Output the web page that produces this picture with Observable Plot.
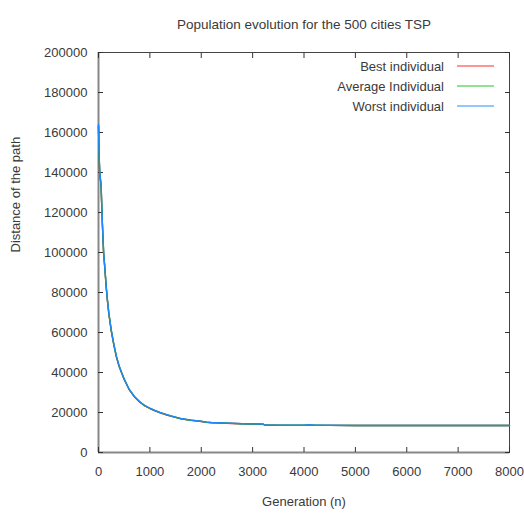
<!DOCTYPE html>
<html>
<head>
<meta charset="utf-8">
<script src="https://cdn.jsdelivr.net/npm/d3@7"></script>
<script src="https://cdn.jsdelivr.net/npm/@observablehq/plot@0.6"></script>
<style>
  html, body { margin: 0; padding: 0; background: white; }
</style>
</head>
<body>
<div id="chart"></div>
<script>
const titleText = "Population evolution for the 500 cities TSP";
const xLabel = "Generation (n)";
const yLabel = "Distance of the path";
const seriesNames = ["Best individual", "Average Individual", "Worst individual"];
const seriesColors = ["#ff0000", "#00c000", "#1e88ff"];
const legendColors = ["#ff7070", "#6cd86c", "#6cb4ff"];
const xTicks = [0, 1000, 2000, 3000, 4000, 5000, 6000, 7000, 8000];
const yTicks = [0, 20000, 40000, 60000, 80000, 100000, 120000, 140000, 160000, 180000, 200000];

const generations = [0, 10, 25, 50, 75, 100, 125, 150, 175, 200, 250, 300, 350, 400, 450, 500, 600, 700, 800, 900, 1000, 1100, 1200, 1300, 1400, 1500, 1600, 1700, 1800, 1900, 2000, 2100, 2200, 2400, 2600, 2800, 3000, 3200, 3250, 3400, 3600, 3800, 4000, 4100, 4200, 4500, 5000, 5500, 6000, 6500, 7000, 7500, 8000];
const worst = [164000, 150000, 140000, 134000, 115000, 100000, 92000, 83000, 76000, 70000, 61000, 54000, 48000, 43500, 40000, 36800, 31500, 28000, 25500, 23500, 22200, 21000, 20000, 19200, 18400, 17700, 17000, 16600, 16200, 15900, 15600, 15200, 15000, 14800, 14600, 14400, 14300, 14200, 13700, 13700, 13600, 13600, 13600, 13900, 13600, 13600, 13500, 13500, 13500, 13500, 13500, 13500, 13500];
const average = [163500, 149500, 139600, 133600, 114700, 99700, 91700, 82800, 75800, 69800, 60800, 53800, 47800, 43300, 39850, 36650, 31400, 27900, 25400, 23400, 22100, 20900, 19900, 19100, 18300, 17620, 16920, 16530, 16150, 15850, 15550, 15150, 14950, 14750, 14550, 14370, 14270, 14170, 13680, 13680, 13590, 13590, 13590, 13620, 13590, 13580, 13500, 13500, 13500, 13500, 13500, 13500, 13500];
const best = [163000, 149000, 139200, 133200, 114400, 99400, 91400, 82600, 75600, 69600, 60600, 53600, 47600, 43100, 39700, 36500, 31300, 27800, 25300, 23300, 22000, 20800, 19800, 19000, 18200, 17550, 16850, 16460, 16100, 15800, 15500, 15100, 14900, 14700, 14500, 14340, 14240, 14140, 13660, 13660, 13580, 13580, 13580, 13590, 13580, 13560, 13490, 13490, 13490, 13490, 13490, 13490, 13490];

const rows = [];
const seriesValues = [best, average, worst];
seriesNames.forEach((name, s) => {
  generations.forEach((g, i) => rows.push({series: name, gen: g, value: seriesValues[s][i]}));
});

const fmt = d => String(d);
const textColor = "#3a3a3a";

const chart = Plot.plot({
  width: 524,
  height: 516,
  marginTop: 52,
  marginLeft: 98,
  marginRight: 15,
  marginBottom: 64,
  style: {fontFamily: "'Liberation Sans', Arial, sans-serif", fontSize: "13px", color: textColor, background: "white", overflow: "visible"},
  x: {domain: [0, 8000], label: null},
  y: {domain: [0, 200000], label: null},
  color: {domain: seriesNames, range: seriesColors},
  marks: [
    Plot.frame({stroke: "#444", strokeWidth: 1}),
    Plot.ruleX([0], {stroke: "#888", strokeWidth: 2}),
    Plot.ruleY([0], {stroke: "#888", strokeWidth: 2}),
    Plot.axisY(yTicks, {anchor: "left", tickSize: 0, tickPadding: 11, tickFormat: fmt, label: null, fill: textColor}),
    Plot.axisY(yTicks, {anchor: "left", tickSize: -5, tickFormat: () => "", label: null, stroke: "#333"}),
    Plot.axisY(yTicks, {anchor: "right", tickSize: -5, tickFormat: () => "", label: null, stroke: "#333"}),
    Plot.axisX(xTicks, {anchor: "bottom", tickSize: 0, tickPadding: 14, tickFormat: fmt, label: null, fill: textColor}),
    Plot.axisX(xTicks, {anchor: "bottom", tickSize: -5, tickFormat: () => "", label: null, stroke: "#333"}),
    Plot.axisX(xTicks, {anchor: "top", tickSize: -5, tickFormat: () => "", label: null, stroke: "#333"}),
    Plot.line(rows, {x: "gen", y: "value", z: "series", stroke: "series", strokeWidth: 1.4}),
    Plot.text([titleText], {frameAnchor: "top", dy: -33, text: d => d, fontSize: 13.5, fill: textColor}),
    Plot.text([xLabel], {frameAnchor: "bottom", dy: 53, text: d => d, fontSize: 13, fill: textColor}),
    Plot.text([yLabel], {frameAnchor: "left", dx: -83, rotate: -90, text: d => d, fontSize: 13, fill: textColor})
  ]
});

document.getElementById("chart").appendChild(chart);

// Legend in the top-right corner of the frame
const svgSel = d3.select(chart);
const [xr0, xr1] = chart.scale("x").range;
const [yr0, yr1] = chart.scale("y").range;
const frameRight = Math.max(xr0, xr1);
const frameTop = Math.min(yr0, yr1);
const lg = svgSel.append("g").attr("font-family", "'Liberation Sans', Arial, sans-serif").attr("font-size", 13);
seriesNames.forEach((name, i) => {
  const cy = frameTop + 14 + i * 20;
  lg.append("text").attr("x", frameRight - 65).attr("y", cy).attr("dy", "0.35em")
    .attr("text-anchor", "end").attr("fill", textColor).text(name);
  lg.append("line").attr("x1", frameRight - 52).attr("x2", frameRight - 15)
    .attr("y1", cy).attr("y2", cy).attr("stroke", legendColors[i]).attr("stroke-width", 1.5);
});
</script>
</body>
</html>
